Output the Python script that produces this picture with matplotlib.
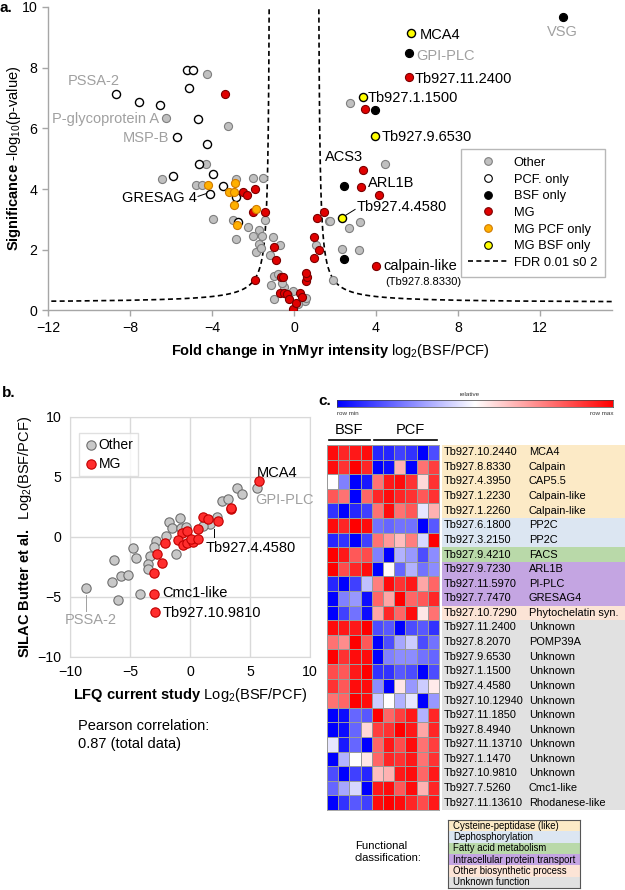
import numpy as np
import matplotlib
matplotlib.use('Agg')
import matplotlib.pyplot as plt
from matplotlib.colors import LinearSegmentedColormap
from matplotlib.lines import Line2D

plt.rcParams['font.family'] = ['Liberation Sans', 'DejaVu Sans']
plt.rcParams['mathtext.fontset'] = 'custom'
plt.rcParams['mathtext.rm'] = 'Liberation Sans'
plt.rcParams['mathtext.bf'] = 'Liberation Sans:bold'
plt.rcParams['mathtext.it'] = 'Liberation Sans:italic'

# ---------------- Panel a data ----------------
other_x = [-6.26, -4.26, -3.22, -6.44, -4.31, -4.78, -4.47, -2.84, -1.98, -1.53, -3.95, -2.96, -2.84, -2.26,
           -1.69, -1.98, -1.40, -1.55, -1.01, -0.68, -1.70, -1.85, -1.60, -1.17, -1.00, -1.14, -0.76, -1.00,
           -0.49, -0.03, 0.55, 1.07, 1.72, 1.92, 2.73, 4.42, 1.76, 2.67, 3.24, 2.33, 3.19, -0.60, -0.30, 0.20, 0.60]
other_y = [6.33, 7.80, 6.09, 4.32, 4.83, 4.15, 4.15, 4.34, 4.38, 4.38, 3.03, 2.99, 2.35, 2.76,
           2.66, 2.44, 2.99, 2.44, 2.42, 2.16, 2.20, 1.94, 2.05, 1.83, 1.14, 0.84, 1.20, 0.37,
           0.79, 0.65, 0.31, 2.15, 2.96, 1.00, 6.85, 4.82, 2.95, 2.72, 2.90, 2.04, 2.00, 0.90, 0.50, 0.20, 0.40]
pcf_x = [-8.66, -7.55, -6.54, -5.23, -4.94, -5.11, -4.68, -5.70, -4.23, -4.65, -3.97, -5.90, -4.11, -3.45, -2.75, -2.85]
pcf_y = [7.14, 6.87, 6.77, 7.94, 7.94, 7.34, 6.32, 5.73, 5.50, 4.82, 4.50, 4.43, 3.84, 4.09, 2.90, 3.75]
bsf_x = [13.14, 5.59, 3.95, 2.44, 2.45]
bsf_y = [9.68, 8.49, 6.62, 4.11, 1.70]
mg_x = [-3.35, -2.50, -2.28, -1.90, -2.01, -1.40, -0.96, -0.90, -1.89, -0.65, -0.56, -0.70, -0.49, -0.36,
        -0.26, -0.06, 0.11, 0.29, 0.41, 0.57, 0.65, 0.60, 0.96, 1.24, 0.98, 1.10, 1.48, 5.59, 3.45, 3.37,
        3.25, 4.13, 3.98]
mg_y = [7.13, 3.91, 3.82, 4.00, 3.23, 3.25, 2.10, 1.66, 1.00, 1.12, 1.09, 0.59, 0.59, 0.54,
        0.37, 0.04, 0.26, 0.59, 0.46, 0.97, 1.12, 1.25, 1.72, 1.99, 2.42, 3.06, 3.24, 7.69, 6.63, 4.64,
        4.08, 3.80, 1.45]
mgpcf_x = [-4.19, -2.86, -3.19, -2.93, -2.93, -1.85, -2.77]
mgpcf_y = [4.14, 4.21, 3.89, 3.89, 3.49, 3.35, 2.81]
mgbsf_x = [5.73, 3.38, 3.93, 2.34]
mgbsf_y = [9.15, 7.02, 5.74, 3.05]

# ---------------- Panel b data ----------------
b_other_x = [5.56, 3.94, 4.36, 2.64, 3.19, 2.28, 1.67, 1.11, -0.83, -1.72, -1.53, -0.75, -2.00, -2.86, -3.00,
             -1.19, -3.33, -3.47, -3.53, -4.53, -4.78, -6.31, -5.78, -5.14, -6.50, -4.14, -5.97, -8.64, -0.30]
b_other_y = [4.06, 4.06, 3.58, 3.00, 3.17, 1.64, 1.11, 0.94, 1.56, 1.22, 0.72, 0.72, 0.11, -0.31, -0.81,
             -1.44, -1.56, -2.25, -2.69, -1.78, -0.94, -1.92, -3.22, -3.17, -3.72, -4.78, -5.25, -4.25, 0.80]
b_mg_x = [5.72, 3.42, 3.38, 1.11, 1.53, 2.33, 0.64, -0.69, -0.28, -0.97, -0.56, -0.22, 0.28, 0.06, 0.64,
          -2.08, -2.78, -2.33, -3.00, -2.97, -2.92]
b_mg_y = [4.69, 2.31, 2.45, 1.69, 1.50, 1.36, 0.69, 0.31, 0.50, -0.25, -0.67, -0.47, -0.44, -0.17, -0.17,
          -0.53, -1.44, -2.19, -3.00, -4.78, -6.28]

# ---------------- Panel c data ----------------
gene_ids = ['Tb927.10.2440', 'Tb927.8.8330', 'Tb927.4.3950', 'Tb927.1.2230', 'Tb927.1.2260',
            'Tb927.6.1800', 'Tb927.3.2150', 'Tb927.9.4210', 'Tb927.9.7230', 'Tb927.11.5970',
            'Tb927.7.7470', 'Tb927.10.7290', 'Tb927.11.2400', 'Tb927.8.2070', 'Tb927.9.6530',
            'Tb927.1.1500', 'Tb927.4.4580', 'Tb927.10.12940', 'Tb927.11.1850', 'Tb927.8.4940',
            'Tb927.11.13710', 'Tb927.1.1470', 'Tb927.10.9810', 'Tb927.7.5260', 'Tb927.11.13610']
gene_names = ['MCA4', 'Calpain', 'CAP5.5', 'Calpain-like', 'Calpain-like', 'PP2C', 'PP2C', 'FACS',
              'ARL1B', 'PI-PLC', 'GRESAG4', 'Phytochelatin syn.', 'Unknown', 'POMP39A', 'Unknown',
              'Unknown', 'Unknown', 'Unknown', 'Unknown', 'Unknown', 'Unknown', 'Unknown', 'Unknown',
              'Cmc1-like', 'Rhodanese-like']
gene_class = [0, 0, 0, 0, 0, 1, 1, 2, 3, 3, 3, 4, 5, 5, 5, 5, 5, 5, 5, 5, 5, 5, 5, 5, 5]
class_labels = ['Cysteine-peptidase (like)', 'Dephosphorylation', 'Fatty acid metabolism',
                'Intracellular protein transport', 'Other biosynthetic process', 'Unknown function']
class_colors = ['#FCEAC6', '#DCE6F2', '#B9D9A9', '#C4A5E2', '#FCE4D6', '#E1E1E1']
heat = [
    [0.95, 0.85, 0.90, 0.95, -0.85, -0.85, -0.75, -0.80, -1.00, -0.70],
    [0.95, 0.80, 1.00, 0.85, -1.00, -0.95, 0.30, -1.00, 0.55, 0.75],
    [0.00, -0.50, -1.00, -0.90, 0.55, 0.90, 0.95, 0.80, 0.15, 0.80],
    [0.65, 0.55, -1.00, 0.60, 0.85, 0.95, 0.85, 0.80, 0.65, 0.80],
    [-0.80, -1.00, -0.85, -0.75, 0.55, 0.95, 0.55, 0.65, -0.10, 0.30],
    [0.95, 0.85, 1.00, 0.95, -0.55, -0.60, -0.55, -0.55, -1.00, -0.65],
    [-0.85, -0.80, -1.00, -0.75, 0.55, 0.40, 0.25, 0.50, -0.15, 1.00],
    [1.00, 0.90, 0.65, 0.70, -0.50, -1.00, -0.30, -0.40, -0.70, -0.45],
    [1.00, 0.70, 0.85, 0.95, -1.00, 0.02, -0.60, -0.30, -0.55, -0.45],
    [-0.85, -1.00, -0.75, -0.25, 0.50, 0.95, 0.80, 0.90, 0.35, 0.60],
    [-1.00, -0.50, -0.40, -0.95, 0.60, 0.35, 1.00, 0.60, 0.65, 0.85],
    [-1.00, -0.75, -0.55, -0.95, 0.35, 0.85, 0.60, 0.95, 0.10, 0.55],
    [0.95, 0.90, 0.90, 1.00, -0.70, -0.65, -1.00, -0.70, -0.65, -0.80],
    [0.55, 0.45, 1.00, 0.65, -1.00, -0.70, -0.35, -0.20, -0.70, -0.55],
    [1.00, 0.80, 0.95, 0.95, -1.00, -0.50, -0.45, -0.45, -0.55, -0.60],
    [0.70, 0.65, 0.90, 1.00, -0.80, -0.80, -0.65, -0.70, -1.00, -0.70],
    [0.80, 0.65, 0.95, 0.95, -0.45, -1.00, 0.10, -0.40, -0.20, 0.08],
    [0.55, 0.60, 1.00, 0.95, -0.20, 0.00, -0.30, -0.10, -1.00, -0.40],
    [-1.00, -0.95, -0.60, -0.65, 1.00, 0.60, 0.75, 0.90, -0.30, 0.85],
    [-1.00, -0.95, -0.60, 0.15, 0.75, 0.80, 1.00, 0.90, 0.35, 0.85],
    [-0.10, -0.90, -0.60, -1.00, 0.60, 0.90, 0.70, 0.95, 0.55, 0.75],
    [-1.00, -0.30, 0.00, 0.10, 0.60, 0.85, 0.80, 0.90, 0.55, 0.80],
    [-0.70, -1.00, -0.75, -0.85, 0.25, 0.30, 0.90, 0.95, 0.60, 0.90],
    [-0.60, -0.35, -0.15, -1.00, 0.90, 0.95, 0.65, 0.95, 0.30, 0.85],
    [-1.00, -0.80, -0.65, -0.75, 0.95, 1.00, 0.95, 0.85, 0.70, 0.90],
]

W, H = 625, 890
fig = plt.figure(figsize=(W / 100, H / 100), dpi=100)


def fr(x0, y0, x1, y1):
    return [x0 / W, 1 - y1 / H, (x1 - x0) / W, (y1 - y0) / H]


GRAY_TXT = '#a0a0a0'

# ================= Panel a =================
ax = fig.add_axes(fr(48, 7, 611.75, 310.5))
ax.set_xlim(-12, 15.5)
ax.set_ylim(0, 10)
for s in ['top', 'right']:
    ax.spines[s].set_visible(False)
for s in ['left', 'bottom']:
    ax.spines[s].set_color('#a6a6a6')
    ax.spines[s].set_linewidth(1.0)
ax.set_xticks([-12, -8, -4, 0, 4, 8, 12])
ax.set_yticks([0, 2, 4, 6, 8, 10])
ax.tick_params(labelsize=10.2, color='#a6a6a6', length=4, width=1)

# FDR threshold curve
x0c, ac, y0c = 1.15, 0.6, 0.25
yy = np.linspace(10.2, y0c + ac / 16.5, 400)
xx = x0c + ac / (yy - y0c)
ax.plot(xx, yy, 'k--', lw=1.2, dashes=(3, 2), zorder=1)
ax.plot(-xx, yy, 'k--', lw=1.2, dashes=(3, 2), zorder=1)

ms = 34
ax.scatter(other_x, other_y, s=ms, c='#c0c0c0', edgecolors='#7f7f7f', linewidths=0.8, zorder=2)
ax.scatter(pcf_x, pcf_y, s=ms, c='white', edgecolors='black', linewidths=1.0, zorder=3)
ax.scatter(bsf_x, bsf_y, s=ms, c='black', edgecolors='black', linewidths=0.8, zorder=3)
ax.scatter(mg_x, mg_y, s=ms, c='#e00000', edgecolors='#7a0000', linewidths=0.8, zorder=4)
ax.scatter(mgpcf_x, mgpcf_y, s=ms, c='#ffb000', edgecolors='#d07a00', linewidths=0.8, zorder=4)
ax.scatter(mgbsf_x, mgbsf_y, s=ms, c='#ffff00', edgecolors='black', linewidths=1.0, zorder=4)

fs = 10.5
ax.text(-8.49, 7.57, 'PSSA-2', color=GRAY_TXT, fontsize=fs, ha='right', va='center')
ax.text(-6.59, 6.32, 'P-glycoprotein A', color=GRAY_TXT, fontsize=fs, ha='right', va='center')
ax.text(-6.10, 5.69, 'MSP-B', color=GRAY_TXT, fontsize=fs, ha='right', va='center')
ax.text(-4.73, 3.71, 'GRESAG 4', color='black', fontsize=fs, ha='right', va='center')
ax.plot([-4.68, -4.25], [3.76, 3.86], color='black', lw=0.7)
ax.text(6.15, 9.09, 'MCA4', fontsize=fs, ha='left', va='center')
ax.text(5.95, 8.37, 'GPI-PLC', color=GRAY_TXT, fontsize=fs, ha='left', va='center')
ax.text(5.90, 7.64, 'Tb927.11.2400', fontsize=fs, ha='left', va='center')
ax.text(3.61, 7.01, 'Tb927.1.1500', fontsize=fs, ha='left', va='center')
ax.text(4.29, 5.73, 'Tb927.9.6530', fontsize=fs, ha='left', va='center')
ax.text(1.51, 5.07, 'ACS3', fontsize=fs, ha='left', va='center')
ax.text(3.61, 4.21, 'ARL1B', fontsize=fs, ha='left', va='center')
ax.text(3.07, 3.42, 'Tb927.4.4580', fontsize=fs, ha='left', va='center')
ax.plot([2.55, 2.98], [3.15, 3.33], color='black', lw=0.7)
ax.text(13.1, 9.16, 'VSG', color=GRAY_TXT, fontsize=fs, ha='center', va='center')
ax.text(4.35, 1.45, 'calpain-like', fontsize=fs, ha='left', va='center')
ax.text(4.45, 0.95, '(Tb927.8.8330)', fontsize=8, ha='left', va='center')

ax.set_xlabel(r'$\mathbf{Fold\ change\ in\ YnMyr\ intensity}$ log$_2$(BSF/PCF)', fontsize=10.5, labelpad=5)
ax.set_ylabel(r'$\mathbf{Significance}$ -log$_{10}$(p-value)', fontsize=10.5)
ax.yaxis.set_label_coords(-0.044, 0.5)

mk = dict(marker='o', linestyle='None', markersize=5.5, markeredgewidth=0.8)
handles = [
    Line2D([], [], markerfacecolor='#c0c0c0', markeredgecolor='#7f7f7f', **mk),
    Line2D([], [], markerfacecolor='white', markeredgecolor='black', **mk),
    Line2D([], [], markerfacecolor='black', markeredgecolor='black', **mk),
    Line2D([], [], markerfacecolor='#e00000', markeredgecolor='#7a0000', **mk),
    Line2D([], [], markerfacecolor='#ffb000', markeredgecolor='#d07a00', **mk),
    Line2D([], [], markerfacecolor='#ffff00', markeredgecolor='black', **mk),
    Line2D([], [], color='black', linestyle='--', dashes=(3, 2), lw=1.2),
]
labels = ['Other', 'PCF. only', 'BSF only', 'MG', 'MG PCF only', 'MG BSF only', 'FDR 0.01 s0 2']
leg = ax.legend(handles, labels, loc='upper left', bbox_to_anchor=(0.732, 0.532), fontsize=9.3,
                frameon=True, fancybox=False, edgecolor='#a6a6a6', borderpad=0.6, labelspacing=0.36,
                handlelength=3.0, handletextpad=0.5, borderaxespad=0)
leg.get_frame().set_linewidth(1.0)

fig.text(0.0, 1 - 8 / H, 'a.', fontsize=11, fontweight='bold', va='center', ha='left')

# ================= Panel b =================
bx = fig.add_axes(fr(70, 417, 310, 657))
bx.set_xlim(-10, 10)
bx.set_ylim(-10, 10)
bx.set_xticks([-10, -5, 0, 5, 10])
bx.set_yticks([-10, -5, 0, 5, 10])
bx.grid(True, color='#d9d9d9', lw=1.0)
bx.set_axisbelow(True)
for s in bx.spines.values():
    s.set_color('#d9d9d9')
bx.tick_params(length=0, labelsize=10.2, pad=6)
bx.scatter(b_other_x, b_other_y, s=45, c='#c8c8c8', edgecolors='#6f6f6f', linewidths=0.8, zorder=3,
           label='Other')
bx.scatter(b_mg_x, b_mg_y, s=45, c='#ff2d2d', edgecolors='#c00000', linewidths=0.8, zorder=4, label='MG')
lb = bx.legend(loc='upper left', bbox_to_anchor=(0.0375, 0.933), fontsize=10, frameon=True, fancybox=False,
               edgecolor='#d9d9d9', handletextpad=0.05, borderpad=0.35, labelspacing=0.35,
               handlelength=1.0, borderaxespad=0, scatterpoints=1)
lb.get_frame().set_linewidth(1.0)

bx.text(5.6, 5.35, 'MCA4', fontsize=fs, ha='left', va='center')
bx.text(5.4, 3.1, 'GPI-PLC', color=GRAY_TXT, fontsize=fs, ha='left', va='center')
bx.text(1.3, -0.95, 'Tb927.4.4580', fontsize=fs, ha='left', va='center')
bx.plot([1.98, 1.98], [0.65, 0.0], color='black', lw=0.7)
bx.text(-2.35, -4.7, 'Cmc1-like', fontsize=fs, ha='left', va='center')
bx.text(-2.27, -6.3, 'Tb927.10.9810', fontsize=fs, ha='left', va='center')
bx.text(-8.3, -6.95, 'PSSA-2', color=GRAY_TXT, fontsize=fs, ha='center', va='center')
bx.plot([-8.64, -8.64], [-4.85, -6.2], color=GRAY_TXT, lw=0.7)

bx.set_xlabel(r'$\mathbf{LFQ\ current\ study}$ Log$_2$(BSF/PCF)', fontsize=10.5, labelpad=5)
bx.set_ylabel(r'$\mathbf{SILAC\ Butter\ et\ al.}$  Log$_2$(BSF/PCF)', fontsize=10.5)
bx.yaxis.set_label_coords(-0.15, 0.5)

fig.text(2 / W, 1 - 393 / H, 'b.', fontsize=11, fontweight='bold', va='center', ha='left')
fig.text(78 / W, 1 - 735 / H, 'Pearson correlation:\n0.87 (total data)', fontsize=10.5, va='center',
         ha='left', linespacing=1.3)

# ================= Panel c =================
cmap = LinearSegmentedColormap.from_list('bwr2', ['#0000ff', '#ffffff', '#ff0000'])
heat_arr = np.array(heat)
n_rows, n_cols = heat_arr.shape

hx = fig.add_axes(fr(327, 445, 439, 810))
hx.pcolormesh(np.arange(n_cols + 1), np.arange(n_rows + 1), heat_arr, cmap=cmap, vmin=-1, vmax=1,
              edgecolors='#9a9a9a', linewidth=0.5)
hx.set_xlim(0, n_cols)
hx.set_ylim(n_rows, 0)
hx.set_xticks([])
hx.set_yticks([])
for s in hx.spines.values():
    s.set_color('#9a9a9a')
    s.set_linewidth(0.6)

lx = fig.add_axes(fr(442, 445, 625, 810))
lx.set_xlim(0, 1)
lx.set_ylim(n_rows, 0)
lx.barh(np.arange(n_rows) + 0.5, 1.0, height=1.0, left=0,
        color=[class_colors[c] for c in gene_class], edgecolor='none')
for i in range(n_rows):
    lx.text(0.008, i + 0.5, gene_ids[i], fontsize=7.9, ha='left', va='center')
    lx.text(0.475, i + 0.5, gene_names[i], fontsize=7.9, ha='left', va='center')
lx.axis('off')

# colour scale bar
cb = fig.add_axes(fr(337, 400, 613, 407))
cb.imshow(np.linspace(-1, 1, 256)[None, :], aspect='auto', cmap=cmap, vmin=-1, vmax=1,
          extent=[0, 1, 0, 1])
cb.set_xticks([])
cb.set_yticks([])
for s in cb.spines.values():
    s.set_linewidth(0.5)
    s.set_color('#404040')
fig.text(470 / W, 1 - 395 / H, 'relative', fontsize=4.5, ha='center', va='center', color='#333333')
fig.text(337 / W, 1 - 413 / H, 'row min', fontsize=4.5, ha='left', va='center', color='#333333')
fig.text(613 / W, 1 - 413 / H, 'row max', fontsize=4.5, ha='right', va='center', color='#333333')

fig.text(349 / W, 1 - 430 / H, 'BSF', fontsize=10.5, ha='center', va='center')
fig.text(410 / W, 1 - 430 / H, 'PCF', fontsize=10.5, ha='center', va='center')
fig.add_artist(Line2D([329 / W, 370 / W], [1 - 440 / H, 1 - 440 / H], color='black', lw=1.2))
fig.add_artist(Line2D([374 / W, 437 / W], [1 - 440 / H, 1 - 440 / H], color='black', lw=1.2))

fig.text(318 / W, 1 - 401 / H, 'c.', fontsize=11, fontweight='bold', va='center', ha='left')

# functional classification legend
cl = fig.add_axes(fr(448, 820, 580, 888))
n_cls = len(class_labels)
cl.set_xlim(0, 1)
cl.set_ylim(n_cls, 0)
cl.barh(np.arange(n_cls) + 0.5, 1.0, height=1.0, left=0, color=class_colors, edgecolor='none')
for i, lab in enumerate(class_labels):
    cl.text(0.038, i + 0.5, lab, fontsize=6.9, ha='left', va='center')
cl.set_xticks([])
cl.set_yticks([])
for s in cl.spines.values():
    s.set_color('#555555')
    s.set_linewidth(0.8)
fig.text(355 / W, 1 - 852 / H, 'Functional\nclassification:', fontsize=8.1, ha='left', va='center',
         linespacing=1.35)

fig.savefig('out.png', dpi=100)
